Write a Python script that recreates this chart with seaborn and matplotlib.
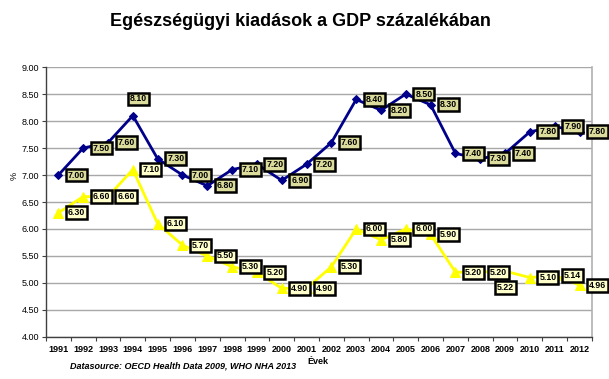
import matplotlib
matplotlib.use("Agg")
import matplotlib.pyplot as plt
import seaborn as sns
import pandas as pd
import numpy as np
from matplotlib.ticker import FixedLocator, FormatStrFormatter

years = list(range(1991, 2013))
total = [7.00, 7.50, 7.60, 8.10, 7.30, 7.00, 6.80, 7.10, 7.20, 6.90, 7.20,
         7.60, 8.40, 8.20, 8.50, 8.30, 7.40, 7.30, 7.40, 7.80, 7.90, 7.80]
public = [6.30, 6.60, 6.60, 7.10, 6.10, 5.70, 5.50, 5.30, 5.20, 4.90, 4.90,
          5.30, 6.00, 5.80, 6.00, 5.90, 5.20, 5.20, 5.22, 5.10, 5.14, 4.96]

title = "Egészségügyi kiadások a GDP százalékában"
xlabel = "Évek"
ylabel = "%"
source = "Datasource: OECD Health Data 2009, WHO NHA 2013"

sns.set_theme(style="white")
plt.rcParams['font.family'] = ['Liberation Sans', 'DejaVu Sans']
plt.rcParams['text.color'] = 'black'
plt.rcParams['xtick.color'] = 'black'
plt.rcParams['ytick.color'] = 'black'
plt.rcParams['axes.labelcolor'] = 'black'

df = pd.DataFrame({"year": years, "total": total, "public": public})

fig = plt.figure(figsize=(6.09, 3.79), dpi=100)
ax = fig.add_axes([0.0755, 0.111, 0.8965, 0.712])

blue = "#00008B"
yellow = "#FFFF00"

sns.lineplot(data=df, x="year", y="public", ax=ax, color=yellow, marker="^",
             markersize=7, markeredgecolor=yellow, linewidth=2.0, zorder=3)
sns.lineplot(data=df, x="year", y="total", ax=ax, color=blue, marker="D",
             markersize=4.5, markeredgecolor=blue, linewidth=2.0, zorder=4)

ax.set_xlim(1990.5, 2012.5)
ax.set_ylim(4.0, 9.0)
ax.yaxis.set_major_locator(FixedLocator(np.arange(4.0, 9.01, 0.5)))
ax.yaxis.set_major_formatter(FormatStrFormatter("%.2f"))
ax.set_xticks(years)
ax.set_xticklabels([str(y) for y in years], fontsize=6.5, fontweight="bold")
ax.xaxis.set_minor_locator(FixedLocator(np.arange(1990.5, 2013, 1.0)))
ax.tick_params(axis="x", which="major", length=0, pad=6)
ax.tick_params(axis="x", which="minor", length=3, width=0.8, color="#404040", bottom=True)
ax.tick_params(axis="y", which="major", length=3, width=0.8, color="#404040", left=True,
               labelsize=6.5, pad=2)

ax.grid(axis="y", color="#A8A8A8", linewidth=1.0, zorder=0)
ax.grid(axis="x", visible=False)
for side in ["left", "bottom"]:
    ax.spines[side].set_color("#404040")
    ax.spines[side].set_linewidth(1.0)
ax.spines["right"].set_color("#B0B0B0")
ax.spines["right"].set_linewidth(1.2)
ax.spines["top"].set_visible(False)

ax.set_xlabel("")
ax.set_ylabel("")
fig.text(0.023, 0.535, ylabel, rotation=90, fontsize=6.5, ha="center", va="center")
fig.text(0.522, 0.045, xlabel, fontsize=6.5, fontweight="bold", ha="center", va="center")
fig.text(0.115, 0.035, source, fontsize=6.5, fontweight="bold", fontstyle="italic",
         ha="left", va="center")
fig.text(0.493, 0.942, title, fontsize=13, fontweight="bold", ha="center", va="center")

def label(values, face, special):
    for yr, v in zip(years, values):
        off = special.get(yr, (13, 0))
        ax.annotate(f"{v:.2f}", (yr, v), xytext=off, textcoords="offset points",
                    ha="center", va="center", fontsize=6.3, fontweight="bold",
                    annotation_clip=False, zorder=6,
                    bbox=dict(boxstyle="square,pad=0.22", facecolor=face,
                              edgecolor="black", linewidth=1.8))

label(total, "#DCDC9C", {1994: (4, 12)})
label(public, "#FFFFCC", {2009: (0, -12)})

fig.savefig("out.png", dpi=100)
